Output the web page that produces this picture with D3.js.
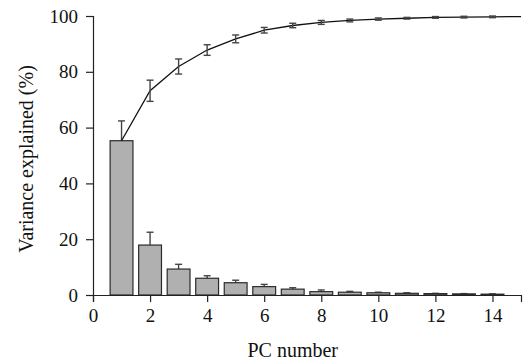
<!DOCTYPE html>
<html>
<head>
<meta charset="utf-8">
<script src="https://cdnjs.cloudflare.com/ajax/libs/d3/7.8.5/d3.min.js"></script>
<style>
  body { margin: 0; background: #fff; }
  text { font-family: 'Liberation Serif', 'DejaVu Serif', serif; }
</style>
</head>
<body>
<div id="chart"></div>
<script>
// per-PC variance explained (bars) and its upper error
var pcs      = [1, 2, 3, 4, 5, 6, 7, 8, 9, 10, 11, 12, 13, 14];
var variance = [55.3, 17.9, 9.3, 6.0, 4.4, 3.0, 2.1, 1.2, 1.0, 0.8, 0.6, 0.5, 0.4, 0.3];
var varErr   = [7.1, 4.6, 1.7, 0.9, 0.9, 0.8, 0.5, 0.6, 0.3, 0.2, 0.2, 0.1, 0.1, 0.1];

// cumulative variance (line) and its error
var cumPcs = [1, 2, 3, 4, 5, 6, 7, 8, 9, 10, 11, 12, 13, 14, 15];
var cumVar = [55.3, 73.2, 81.9, 87.8, 91.8, 94.9, 96.6, 97.7, 98.4, 98.9, 99.2, 99.5, 99.6, 99.7, 99.8];
var cumErr = [0, 3.8, 2.7, 1.9, 1.4, 1.0, 0.8, 0.7, 0.5, 0.4, 0.3, 0.3, 0.3, 0.3, 0];

var xTicks = [0, 2, 4, 6, 8, 10, 12, 14];
var yTicks = [0, 20, 40, 60, 80, 100];

var width = 524, height = 362;
var margin = {left: 93, right: 3, top: 16, bottom: 67};

var svg = d3.select('#chart').append('svg')
  .attr('width', width)
  .attr('height', height);

var x = d3.scaleLinear().domain([0, 15]).range([margin.left, width - margin.right]);
var y = d3.scaleLinear().domain([0, 100]).range([height - margin.bottom, margin.top]);

var barW = x(0.8) - x(0);

// bar error bars (upper only, drawn before bars)
var be = svg.append('g').attr('stroke', '#444').attr('stroke-width', 1.4);
pcs.forEach(function(p, i) {
  var top = y(variance[i] + varErr[i]);
  be.append('line').attr('x1', x(p)).attr('x2', x(p)).attr('y1', y(variance[i])).attr('y2', top);
  be.append('line').attr('x1', x(p) - 3.5).attr('x2', x(p) + 3.5).attr('y1', top).attr('y2', top);
});

svg.append('g').selectAll('rect')
  .data(pcs)
  .enter().append('rect')
  .attr('x', function(d) { return x(d) - barW / 2; })
  .attr('y', function(d, i) { return y(variance[i]); })
  .attr('width', barW)
  .attr('height', function(d, i) { return y(0) - y(variance[i]); })
  .attr('fill', '#b0b0b0')
  .attr('stroke', '#2a2a2a')
  .attr('stroke-width', 1.2);

// cumulative line
var line = d3.line()
  .x(function(d) { return x(d); })
  .y(function(d, i) { return y(cumVar[i]); });

svg.append('path')
  .datum(cumPcs)
  .attr('d', line)
  .attr('fill', 'none')
  .attr('stroke', '#111')
  .attr('stroke-width', 1.3);

var ce = svg.append('g').attr('stroke', '#444').attr('stroke-width', 1.4);
cumPcs.forEach(function(p, i) {
  if (i === 0 || cumErr[i] === 0) return;
  var lo = y(cumVar[i] - cumErr[i]), hi = y(cumVar[i] + cumErr[i]);
  ce.append('line').attr('x1', x(p)).attr('x2', x(p)).attr('y1', lo).attr('y2', hi);
  ce.append('line').attr('x1', x(p) - 3.5).attr('x2', x(p) + 3.5).attr('y1', lo).attr('y2', lo);
  ce.append('line').attr('x1', x(p) - 3.5).attr('x2', x(p) + 3.5).attr('y1', hi).attr('y2', hi);
});

// axes
var xAxis = d3.axisBottom(x).tickValues(xTicks).tickSizeOuter(0).tickSize(7).tickPadding(7);
var yAxis = d3.axisLeft(y).tickValues(yTicks).tickSizeOuter(0).tickSize(7).tickPadding(8);

var gx = svg.append('g').attr('transform', 'translate(0,' + y(0) + ')').call(xAxis);
var gy = svg.append('g').attr('transform', 'translate(' + x(0) + ',0)').call(yAxis);

[gx, gy].forEach(function(g) {
  g.selectAll('path, line').attr('stroke', '#222').attr('stroke-width', 1.2);
  g.selectAll('text').attr('font-size', 19).attr('fill', '#111')
    .style('font-family', "'Liberation Serif', 'DejaVu Serif', serif");
});

svg.append('text')
  .attr('x', x(7)).attr('y', 357)
  .attr('text-anchor', 'middle')
  .attr('font-size', 20)
  .attr('fill', '#111')
  .text('PC number');

svg.append('text')
  .attr('transform', 'translate(33,159) rotate(-90)')
  .attr('text-anchor', 'middle')
  .attr('font-size', 20)
  .attr('fill', '#111')
  .text('Variance explained (%)');
</script>
</body>
</html>
